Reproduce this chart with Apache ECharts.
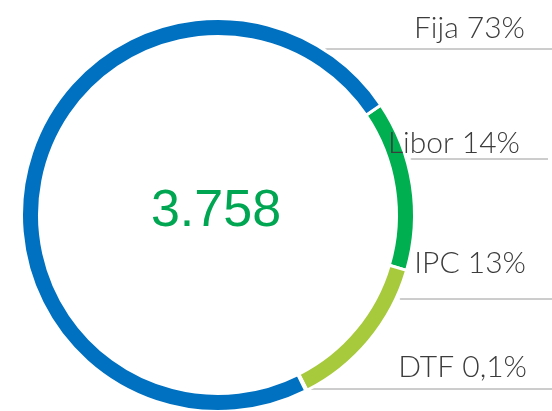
<!DOCTYPE html>
<html>
<head>
<meta charset="utf-8">
<script src="https://cdn.jsdelivr.net/npm/echarts@6/dist/echarts.min.js"></script>
<style>
  html, body { margin: 0; padding: 0; background: #fff; }
  #main { width: 552px; height: 411px; }
</style>
</head>
<body>
<div id="main"></div>
<script>
// datos del anillo
const categories = ['Libor', 'IPC', 'DTF', 'Fija']
const shares = [14, 13, 0.1, 73]
const shareLabels = ['14%', '13%', '0,1%', '73%']
const totalLabel = '3.758'
const colors = ['#00b050', '#a7c93c', '#a7c93c', '#0070c0']

// geometría del anillo (el borde blanco se come 1.5px por lado)
const cx = 218, cy = 215, outerR = 196.5, innerR = 178.5
// donde va cada etiqueta: y de la linea, base del texto, borde derecho del texto
const lineY = [159, 299, 389, 49]
const textBottom = [158, 278, 382, 43]
const textRight = [520, 526, 527, 525]
const lineEnd = [548, 552, 552, 552]

const chart = echarts.init(document.getElementById('main'))

chart.setOption({
  animation: false,
  graphic: [{
    type: 'text',
    x: cx - 2,
    y: cy - 3,
    style: {
      text: totalLabel,
      fill: '#00a651',
      font: '52px "Liberation Sans", Arial, sans-serif',
      align: 'center',
      verticalAlign: 'middle'
    }
  }],
  series: [{
    type: 'pie',
    center: [cx, cy],
    radius: [innerR, outerR],
    startAngle: 34,
    clockwise: true,
    silent: true,
    avoidLabelOverlap: false,
    itemStyle: { borderColor: '#fff', borderWidth: 3 },
    data: categories.map((c, i) => ({
      name: c,
      value: shares[i],
      itemStyle: { color: colors[i] }
    })),
    label: {
      show: true,
      formatter: p => p.name + ' ' + shareLabels[p.dataIndex],
      fontFamily: 'Lato',
      fontWeight: 300,
      fontSize: 30,
      color: '#3c3c3c'
    },
    labelLine: {
      show: true,
      lineStyle: { color: '#9a9a9a', width: 1 }
    },
    labelLayout: function (params) {
      const i = params.dataIndex
      const y = lineY[i]
      const dy = y - cy
      const startX = cx + Math.sqrt(Math.max(194 * 194 - dy * dy, 0)) + 7
      return {
        x: textRight[i],
        y: textBottom[i],
        align: 'right',
        verticalAlign: 'bottom',
        labelLinePoints: [[startX, y], [startX + 1, y], [lineEnd[i], y]]
      }
    }
  }]
})
</script>
</body>
</html>
